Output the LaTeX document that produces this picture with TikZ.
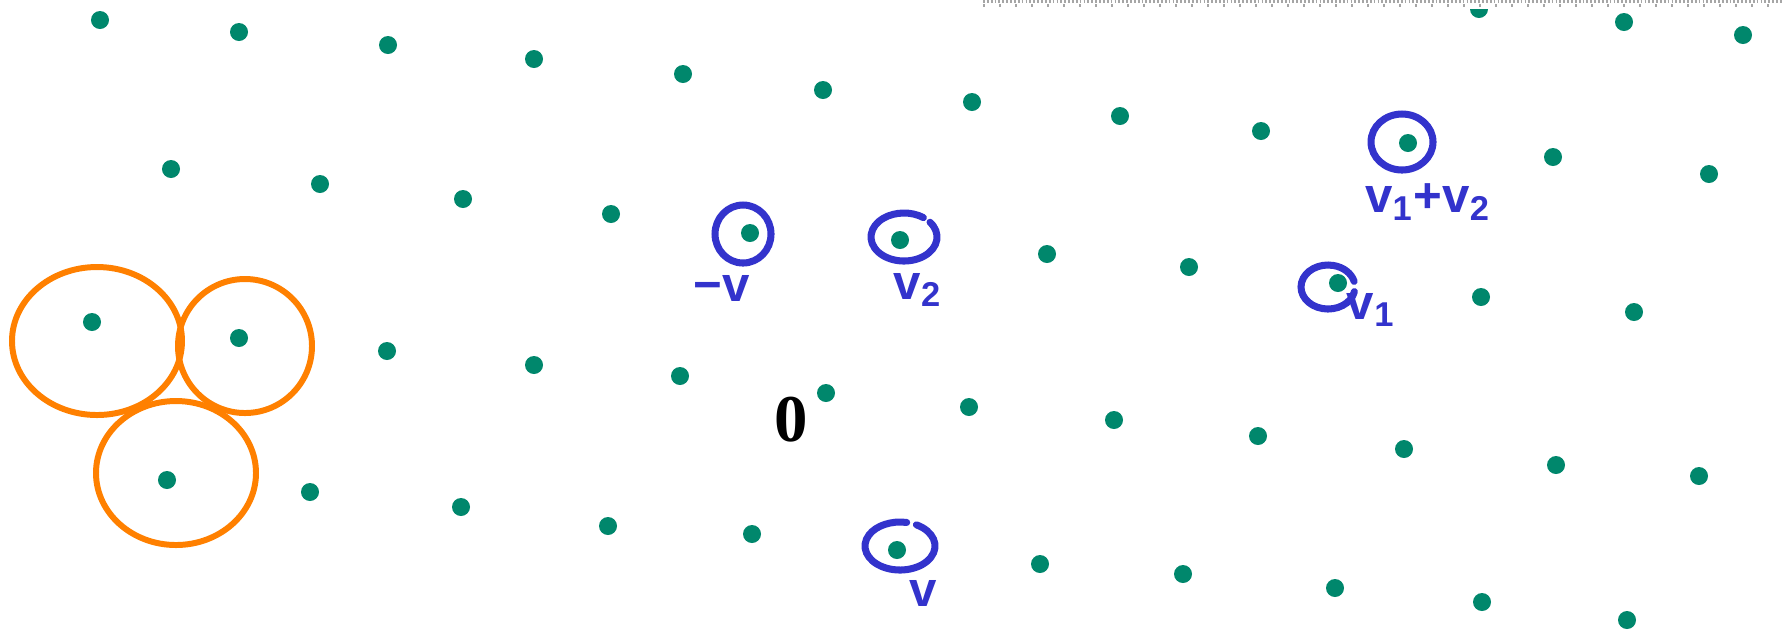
\documentclass[tikz,border=0pt]{standalone}
\usepackage{fontspec}
\usepackage{tikz}
\usetikzlibrary{calc}
\newfontfamily\handfont{Liberation Sans}
\newfontfamily\zerofont{Liberation Serif}
\definecolor{latcol}{HTML}{00876C}
\definecolor{ringcol}{HTML}{3333CC}
\definecolor{ballcol}{HTML}{FF8000}

\begin{document}
\begin{tikzpicture}[x=0.01cm, y=-0.01cm,
  latpt/.style={circle, fill=latcol, inner sep=0pt, minimum size=0.18cm},
  ring/.style={ringcol, line width=2pt, line cap=round},
  ball/.style={ballcol, line width=1.7pt},
  tag/.style={ringcol, inner sep=0pt, font=\handfont\bfseries\fontsize{14}{16}\selectfont}]
\useasboundingbox (0,0) rectangle (1783,635);
\clip (0,0) rectangle (1783,635);

% lattice points
\foreach \px/\py [count=\i] in {1479/9, 1624/22, 1743/35,
    100/20, 239/32, 388/45, 534/59, 683/74, 823/90, 972/102, 1120/116, 1261/131, 1553/157, 1709/174,
    171/169, 320/184, 463/199, 611/214, 1047/254, 1189/267, 1481/297, 1634/312,
    387/351, 534/365, 680/376, 969/407, 1114/420, 1258/436, 1404/449, 1556/465, 1699/476,
    310/492, 461/507, 608/526, 752/534, 1040/564, 1183/574, 1335/588, 1482/602, 1627/620}
  \node[latpt] (p\i) at (\px,\py) {};

\node[latpt] (zero) at (826,393) {};
\node[latpt] (vv) at (897,550) {};
\node[latpt] (mv) at (750,233) {};
\node[latpt] (vtwo) at (900,240) {};
\node[latpt] (vone) at (1338,283) {};
\node[latpt] (vsum) at (1408,143) {};
\node[latpt] (ba) at (92,322) {};
\node[latpt] (bb) at (239,338) {};
\node[latpt] (bc) at (167,480) {};

% ruled strip at the top
\coordinate (rulel) at (983,0);
\coordinate (ruler) at (1783,9);
\fill[white] (rulel) rectangle (ruler);
\draw[gray!70, line width=0.6pt, dash pattern=on 0.5pt off 0.6pt] ($(rulel)+(0,1.5)$) -- ($(ruler|-rulel)+(0,1.5)$);
\draw[gray!70, line width=0.6pt, dash pattern=on 0.45pt off 4.1pt] ($(rulel)+(0,5.5)$) -- ($(ruler|-rulel)+(0,5.5)$);

\node[font=\zerofont\bfseries\fontsize{19}{21}\selectfont, inner sep=0pt] (orig) at (791,420) {0};

% blue rings and labels
\draw[ring] ($(mv)+(-7,1)$) ellipse [x radius=28, y radius=29];
\draw[ring] ($(vtwo)+(4,-3)$) ++(-38:33 and 24) arc [start angle=-38, end angle=306, x radius=33, y radius=24];
\draw[ring] ($(vsum)+(-6,-1)$) ellipse [x radius=31, y radius=28];
\draw[ring] ($(vone)+(-10,4)$) ++(12:27 and 22) arc [start angle=12, end angle=345, x radius=27, y radius=22];
\draw[ring] ($(vv)+(3,-4)$) ++(-62:35 and 24) arc [start angle=-62, end angle=281, x radius=35, y radius=24];

\node[tag] (lmv) at (722,288) {−v};
\node[tag] (lvtwo) at (918,290) {v\textsubscript{2}};
\node[tag] (lvsum) at (1428,202) {v\textsubscript{1}+v\textsubscript{2}};
\node[tag] (lvone) at (1371,310) {v\textsubscript{1}};
\node[tag] (lvv) at (923,593) {v};

% orange balls
\draw[ball] ($(ba)+(5,19)$) ellipse [x radius=85, y radius=74];
\draw[ball] ($(bb)+(6,8)$) ellipse [x radius=67, y radius=67];
\draw[ball] ($(bc)+(9,-7)$) ellipse [x radius=80, y radius=72];
\end{tikzpicture}
\end{document}
